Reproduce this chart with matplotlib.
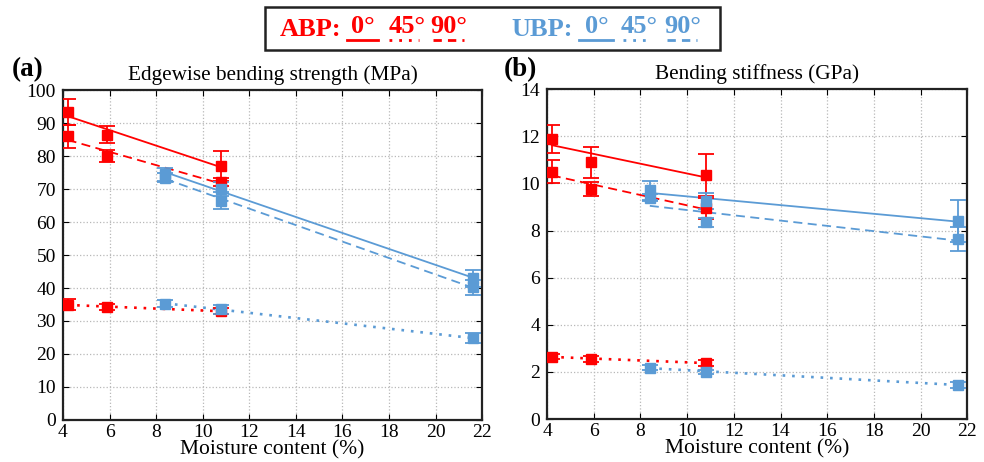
import numpy as np
import matplotlib
matplotlib.use('Agg')
import matplotlib.pyplot as plt
from matplotlib.lines import Line2D

plt.rcParams['font.family'] = ['Liberation Serif', 'DejaVu Serif']

RED = '#ff0000'
BLUE = '#5b9bd5'

# moisture content (%)
x_abp = [4.2, 5.9, 10.8]
x_ubp = [8.4, 10.8, 21.6]

# (a) edgewise bending strength (MPa)
mor_abp_0 = [93.3, 86.5, 77.0]
mor_abp_0_err = [4.0, 2.5, 4.5]
mor_abp_45 = [35.0, 34.2, 33.0]
mor_abp_45_err = [1.6, 1.0, 1.0]
mor_abp_90 = [86.0, 80.0, 72.0]
mor_abp_90_err = [3.5, 1.8, 1.2]
mor_ubp_0 = [74.5, 70.0, 43.0]
mor_ubp_0_err = [2.0, 2.0, 2.6]
mor_ubp_45 = [35.3, 33.5, 24.8]
mor_ubp_45_err = [1.0, 1.5, 1.6]
mor_ubp_90 = [73.5, 66.5, 40.2]
mor_ubp_90_err = [1.5, 2.5, 2.3]

# (b) bending stiffness (GPa)
moe_abp_0 = [11.9, 10.9, 10.35]
moe_abp_0_err = [0.6, 0.65, 0.9]
moe_abp_45 = [2.65, 2.55, 2.38]
moe_abp_45_err = [0.1, 0.12, 0.12]
moe_abp_90 = [10.5, 9.75, 8.95]
moe_abp_90_err = [0.5, 0.3, 0.45]
moe_ubp_0 = [9.7, 9.25, 8.4]
moe_ubp_0_err = [0.4, 0.35, 0.9]
moe_ubp_45 = [2.18, 2.0, 1.45]
moe_ubp_45_err = [0.1, 0.08, 0.12]
moe_ubp_90 = [9.4, 8.35, 7.65]
moe_ubp_90_err = [0.15, 0.2, 0.5]

xticks = [4, 6, 8, 10, 12, 14, 16, 18, 20, 22]


def line_kw(ls):
    if ls == '--':
        return dict(linestyle=(0, (5, 3)), linewidth=1.3)
    if ls == ':':
        return dict(linestyle=(0, (1, 2.6)), linewidth=1.9)
    return dict(linestyle='-', linewidth=1.3)


def series(ax, x, y, err, color, ls):
    x = np.array(x)
    k, b = np.polyfit(x, y, 1)
    xs = np.array([x.min(), x.max()])
    ax.plot(xs, k * xs + b, color=color, zorder=2, **line_kw(ls))
    ax.errorbar(x, y, yerr=err, fmt='s', color=color, markersize=7, capsize=6,
                elinewidth=1.3, capthick=1.3, zorder=3)


def style(ax, ymax, ystep, title):
    ax.set_xlim(4, 22)
    ax.set_ylim(0, ymax)
    ax.set_xticks(xticks)
    ax.set_yticks(np.arange(0, ymax + 0.1, ystep))
    ax.grid(True, linestyle=':', color='#b8b8b8', linewidth=0.9)
    ax.tick_params(direction='in', top=True, right=True, labelsize=14, length=4)
    ax.tick_params(axis='x', pad=3)
    ax.tick_params(axis='y', pad=5)
    for s in ax.spines.values():
        s.set_linewidth(1.6)
        s.set_color('#222222')
    ax.set_xlabel('Moisture content (%)', fontsize=15.5, labelpad=-1)
    ax.set_title(title, fontsize=15.3, pad=7)


fig = plt.figure(figsize=(9.84, 4.62), dpi=100)
ax1 = fig.add_axes([0.064, 0.091, 0.426, 0.714])
ax2 = fig.add_axes([0.556, 0.093, 0.427, 0.714])

series(ax1, x_abp, mor_abp_0, mor_abp_0_err, RED, '-')
series(ax1, x_abp, mor_abp_90, mor_abp_90_err, RED, '--')
series(ax1, x_abp, mor_abp_45, mor_abp_45_err, RED, ':')
series(ax1, x_ubp, mor_ubp_0, mor_ubp_0_err, BLUE, '-')
series(ax1, x_ubp, mor_ubp_90, mor_ubp_90_err, BLUE, '--')
series(ax1, x_ubp, mor_ubp_45, mor_ubp_45_err, BLUE, ':')
style(ax1, 100, 10, 'Edgewise bending strength (MPa)')

series(ax2, x_abp, moe_abp_0, moe_abp_0_err, RED, '-')
series(ax2, x_abp, moe_abp_90, moe_abp_90_err, RED, '--')
series(ax2, x_abp, moe_abp_45, moe_abp_45_err, RED, ':')
series(ax2, x_ubp, moe_ubp_0, moe_ubp_0_err, BLUE, '-')
series(ax2, x_ubp, moe_ubp_90, moe_ubp_90_err, BLUE, '--')
series(ax2, x_ubp, moe_ubp_45, moe_ubp_45_err, BLUE, ':')
style(ax2, 14, 2, 'Bending stiffness (GPa)')

fig.text(0.012, 0.835, '(a)', fontsize=19.5, fontweight='bold')
fig.text(0.512, 0.835, '(b)', fontsize=19.5, fontweight='bold')

# custom legend box on top
W, H = 984.0, 462.0
fig.add_artist(plt.Rectangle((265 / W, 1 - 50 / H), 455 / W, 43 / H, transform=fig.transFigure,
                             fill=False, edgecolor='#222222', linewidth=1.8))
leg = [('ABP:', RED, 311, [(363, '0°', '-', 347, 378), (407, '45°', ':', 389, 419), (449, '90°', '--', 433, 464)]),
       ('UBP:', BLUE, 542, [(597, '0°', '-', 579, 613), (639, '45°', ':', 623, 647), (683, '90°', '--', 667, 697)])]
for name, col, nx, items in leg:
    fig.text(nx / W, 1 - 36 / H, name, color=col, fontsize=19, fontweight='bold', ha='center', va='baseline')
    for cx, lab, ls, x0, x1 in items:
        fig.text(cx / W, 1 - 33 / H, lab, color=col, fontsize=19, fontweight='bold', ha='center', va='baseline')
        st = (0, (3, 2.2)) if ls == '--' else ((0, (1, 2.5)) if ls == ':' else '-')
        fig.add_artist(Line2D([x0 / W, x1 / W], [1 - 40 / H, 1 - 40 / H], transform=fig.transFigure,
                              color=col, linewidth=2.0, linestyle=st))

fig.savefig('out.png', dpi=100)
